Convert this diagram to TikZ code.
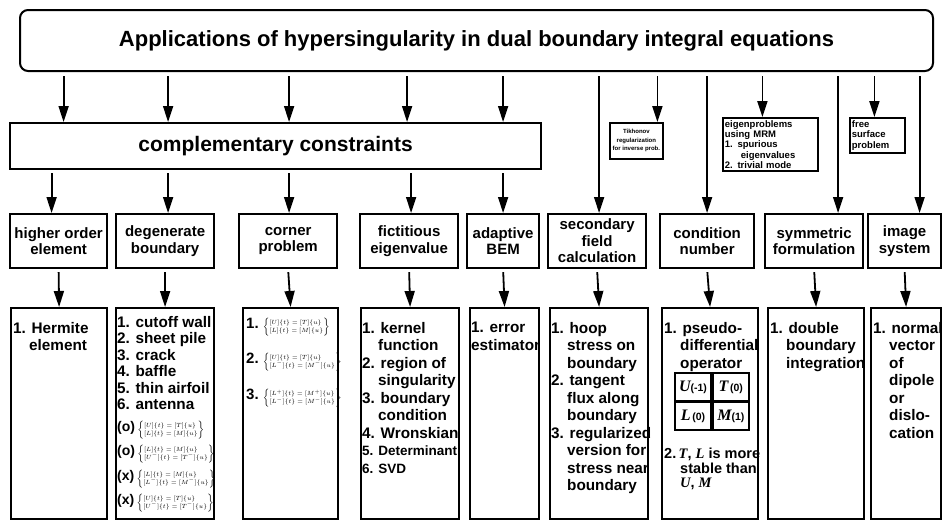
\documentclass[tikz,border=0pt]{standalone}
\usepackage{fontspec}
\setmainfont{Liberation Sans}
\newfontfamily\letfont{Liberation Serif}
\usetikzlibrary{positioning,arrows.meta}

\newcommand{\subln}{\hspace*{16pt}}
\newcommand{\eqtwo}[2]{{\fontsize{6}{7}\selectfont\renewcommand{\arraystretch}{1.05}%
  $\left\{\begin{array}{@{}l@{}}#1\\{}#2\end{array}\right\}$}}
\newcommand{\itl}[1]{{\letfont\itshape #1}}

\begin{document}
\begin{tikzpicture}[x=1pt,y=-1pt,
  titlebox/.style={draw,line width=2pt,rounded corners=8pt,minimum width=913pt,
                   minimum height=61pt,font=\fontsize{22}{26}\selectfont\bfseries},
  compbox/.style={draw,line width=2.2pt,anchor=north west,minimum width=531pt,
                  minimum height=46pt,font=\fontsize{21}{24}\selectfont\bfseries},
  headbox/.style={draw,line width=2.2pt,anchor=north west,inner sep=0pt,align=center,
                  minimum height=\hA pt,font=\fontsize{15}{16.5}\selectfont\bfseries},
  listbox/.style={draw,line width=2.2pt,anchor=north west,inner sep=0pt,minimum height=\hB pt},
  listtext/.style={anchor=north west,inner sep=0pt,align=left,
                   font=\fontsize{15.3}{17.5}\selectfont\bfseries},
  eqtext/.style={anchor=west,inner sep=0pt,font=\fontsize{14}{14}\selectfont\bfseries},
  smallbox/.style={draw,line width=1.8pt,anchor=north west,inner sep=2pt,
                   font=\fontsize{9.5}{10.3}\selectfont\bfseries},
  cellbox/.style={draw,line width=1.8pt,minimum width=36pt,minimum height=27.5pt,inner sep=0pt,
                  font=\fontsize{10.5}{10.5}\selectfont\bfseries},
  arr/.style={line width=1.8pt,-{Triangle[length=16pt,width=10pt]}}]
  \pgfmathsetmacro{\rowA}{213} \pgfmathsetmacro{\hA}{54}
  \pgfmathsetmacro{\rowB}{307} \pgfmathsetmacro{\hB}{211}
  \fill[white] (0,0) rectangle (943,522);
  \useasboundingbox (0,0) rectangle (943,522);

  %% title and complementary constraints
  %% ------------------------------------
  \node[titlebox] (title) at (476.5,40.5)
       {Applications of hypersingularity in dual boundary integral equations};
  \node[compbox] (comp) at (9,122) {complementary constraints};

  %% small boxes hanging from the title
  %% ------------------------------------
  \node[smallbox,minimum width=53pt,minimum height=36pt,align=center,
        font=\fontsize{6}{8.5}\selectfont\bfseries] (tik) at (609,122)
       {Tikhonov\\regularization\\for inverse prob.};
  \node[smallbox,text width=91pt,minimum height=53pt,align=left] (eig) at (722,117)
       {eigenproblems\\using MRM\\1. spurious\\\subln eigenvalues\\2. trivial mode};
  \node[smallbox,text width=51pt,minimum height=35pt,align=left] (fsp) at (849,117)
       {free\\surface\\problem};

  %% headings
  %% ------------------------------------
  \node[headbox,minimum width=97pt] (hoe) at (9,\rowA)   {higher order\\element};
  \node[headbox,minimum width=98pt] (deg) at (115,\rowA) {degenerate\\boundary};
  \node[headbox,minimum width=98pt] (cor) at (238,\rowA) {corner\\problem};
  \node[headbox,minimum width=98pt] (fic) at (359,\rowA) {fictitious\\eigenvalue};
  \node[headbox,minimum width=72pt] (ada) at (466,\rowA) {adaptive\\BEM};
  \node[headbox,minimum width=98pt] (sec) at (547,\rowA) {secondary\\field\\calculation};
  \node[headbox,minimum width=94pt] (con) at (659,\rowA) {condition\\number};
  \node[headbox,minimum width=98pt] (sym) at (764,\rowA) {symmetric\\formulation};
  \node[headbox,minimum width=73pt] (img) at (867,\rowA) {image\\system};

  %% lists
  %% ------------------------------------
  \node[listbox,minimum width=96pt] (hoeL) at (10,\rowB)  {};
  \node[listbox,minimum width=98pt] (degL) at (115,\rowB) {};
  \node[listbox,minimum width=95pt] (corL) at (242,\rowB) {};
  \node[listbox,minimum width=98pt] (ficL) at (360,\rowB) {};
  \node[listbox,minimum width=69pt] (adaL) at (469,\rowB) {};
  \node[listbox,minimum width=98pt] (secL) at (549,\rowB) {};
  \node[listbox,minimum width=96pt] (conL) at (661,\rowB) {};
  \node[listbox,minimum width=96pt] (symL) at (767,\rowB) {};
  \node[listbox,minimum width=70pt] (imgL) at (870,\rowB) {};

  \node[listtext] (hoeT) at ([xshift=3,yshift=-15]hoeL.north west) {1. Hermite\\\subln element};
  \node[listtext,font=\fontsize{15.3}{16.5}\selectfont\bfseries] (degT)
       at ([xshift=2,yshift=-9]degL.north west)
       {1. cutoff wall\\2. sheet pile\\3. crack\\4. baffle\\5. thin airfoil\\6. antenna};
  \node[eqtext] (degA) at (117,430) {(o)\,\eqtwo{[U]\{t\}=[T]\{u\}}{[L]\{t\}=[M]\{u\}}};
  \node[eqtext] (degB) at (117,454) {(o)\,\eqtwo{[L]\{t\}=[M]\{u\}}{[U^-]\{t\}=[T^-]\{u\}}};
  \node[eqtext] (degC) at (117,479) {(x)\,\eqtwo{[L]\{t\}=[M]\{u\}}{[L^-]\{t\}=[M^-]\{u\}}};
  \node[eqtext] (degD) at (117,503) {(x)\,\eqtwo{[U]\{t\}=[T]\{u\}}{[U^-]\{t\}=[T^-]\{u\}}};

  \node[eqtext,font=\fontsize{15}{15}\selectfont\bfseries] (corA) at (246,327)
       {1.\;\eqtwo{[U]\{t\}=[T]\{u\}}{[L]\{t\}=[M]\{u\}}};
  \node[eqtext,font=\fontsize{15}{15}\selectfont\bfseries] (corB) at (246,362)
       {2.\;\eqtwo{[U]\{t\}=[T]\{u\}}{[L^-]\{t\}=[M^-]\{u\}}};
  \node[eqtext,font=\fontsize{15}{15}\selectfont\bfseries] (corC) at (246,398)
       {3.\;\eqtwo{[L^+]\{t\}=[M^+]\{u\}}{[L^-]\{t\}=[M^-]\{u\}}};

  \node[listtext] (ficT) at ([xshift=2,yshift=-15]ficL.north west)
       {1. kernel\\\subln function\\2. region of\\\subln singularity\\3. boundary\\\subln condition\\
        4. Wronskian\\{\fontsize{13.5}{17.5}\selectfont 5. Determinant}\\{\fontsize{13.5}{17.5}\selectfont 6. SVD}};
  \node[listtext] (adaT) at ([xshift=2,yshift=-15]adaL.north west) {1. error\\estimator};
  \node[listtext] (secT) at ([xshift=2,yshift=-15]secL.north west)
       {1. hoop\\\subln stress on\\\subln boundary\\2. tangent\\\subln flux along\\\subln boundary\\
        3. regularized\\\subln version for\\\subln stress near\\\subln boundary};
  \node[listtext] (conT) at ([xshift=3,yshift=-15]conL.north west)
       {1. pseudo-\\\subln differential\\\subln operator};

  %% operator orders
  \node[cellbox] (cU) at (693,387)          {{\fontsize{16}{16}\selectfont\itl{U}}(-1)};
  \node[cellbox,right=0pt of cU] (cT)        {{\fontsize{16}{16}\selectfont\itl{T}}\,(0)};
  \node[cellbox,below=0pt of cU] (cL)        {{\fontsize{16}{16}\selectfont\itl{L}}\,(0)};
  \node[cellbox,right=0pt of cL] (cM)        {{\fontsize{16}{16}\selectfont\itl{M}}(1)};

  \node[listtext,font=\fontsize{14.5}{14.5}\selectfont\bfseries] (conU)
       at ([xshift=3,yshift=-141]conL.north west)
       {2.\,\itl{T}, \itl{L} is more\\\subln stable than\\\subln \itl{U}, \itl{M}};
  \node[listtext] (symT) at ([xshift=3,yshift=-15]symL.north west)
       {1. double\\\subln boundary\\\subln integration};
  \node[listtext] (imgT) at ([xshift=3,yshift=-15]imgL.north west)
       {1. normal\\\subln vector\\\subln of\\\subln dipole\\\subln or\\\subln dislo-\\\subln cation};

  %% connectors
  %% ------------------------------------
  \foreach \nm/\du/\dl in {hoe/5/-7,deg/3/3,cor/1/1,fic/-2/2,ada/0/0}{
    \coordinate (\nm up) at ([xshift=\du]\nm.north);
    \coordinate (\nm dn) at ([xshift=\dl]\nm.north);
    \draw[arr,shorten <=4pt] (title.south -| \nm up) -- (comp.north -| \nm up);
    \draw[arr,shorten <=3pt] (comp.south -| \nm dn) -- (\nm dn);
  }
  \foreach \nm in {hoe,deg,cor,fic,ada,sec,con,sym,img}
    \draw[arr,shorten <=3pt] (\nm.south) -- (\nm L.north);

  \coordinate (secin) at ([xshift=2]sec.north);
  \coordinate (conin) at (con.north);
  \coordinate (symin) at ([xshift=24]sym.north);
  \coordinate (imgin) at ([xshift=15]img.north);
  \foreach \nm in {secin,conin,symin,imgin}
    \draw[arr,shorten <=4pt] (title.south -| \nm) -- (\nm);

  \coordinate (tikin) at ([xshift=21]tik.north);
  \coordinate (eigin) at ([xshift=-8]eig.north);
  \coordinate (fspin) at ([xshift=-3]fsp.north);
  \foreach \nm in {tikin,eigin,fspin}
    \draw[arr,shorten <=4pt] (title.south -| \nm) -- (\nm);

\end{tikzpicture}
\end{document}
